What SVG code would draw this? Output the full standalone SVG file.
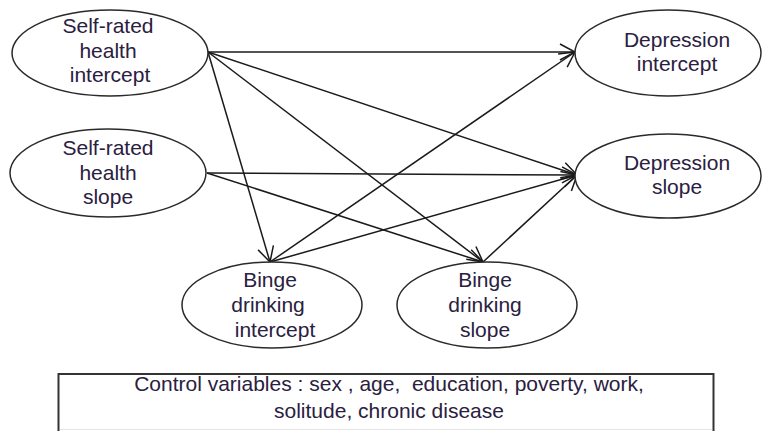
<svg xmlns="http://www.w3.org/2000/svg" width="769" height="431" viewBox="0 0 769 431">
<style>
.node ellipse{fill:#fff;stroke:#2a2a2a;stroke-width:1.5}
.node text,.note text{font-family:"Liberation Sans",Arial,sans-serif;font-size:21px;fill:#2a2040;text-anchor:middle}
.conn line{stroke:#1a1a1a;stroke-width:1.5;marker-end:url(#arr)}
</style>
<defs>
<marker id="arr" markerUnits="userSpaceOnUse" markerWidth="18" markerHeight="18" viewBox="0 0 18 18" refX="16" refY="9" orient="auto">
<path d="M1,1 L16,9 L1,17" fill="none" stroke="#1a1a1a" stroke-width="1.5"/>
</marker>
</defs>
<rect width="769" height="431" fill="#fff"/>
<g class="conn">
<line x1="208" y1="52" x2="575" y2="52"/>
<line x1="208" y1="52" x2="577" y2="175"/>
<line x1="208" y1="52" x2="270" y2="262"/>
<line x1="208" y1="52" x2="483" y2="262"/>
<line x1="207" y1="173" x2="577" y2="175"/>
<line x1="207" y1="173" x2="483" y2="262"/>
<line x1="270" y1="262" x2="575" y2="52"/>
<line x1="270" y1="262" x2="577" y2="175"/>
<line x1="483" y1="262" x2="577" y2="175"/>
</g>
<g id="srh-intercept" class="node">
<ellipse cx="110" cy="53" rx="98" ry="43"/>
<text x="108" y="33">Self-rated</text>
<text x="108" y="58">health</text>
<text x="110" y="82">intercept</text>
</g>
<g id="srh-slope" class="node">
<ellipse cx="108" cy="173" rx="98" ry="44"/>
<text x="108" y="155">Self-rated</text>
<text x="108" y="180">health</text>
<text x="108" y="204">slope</text>
</g>
<g id="dep-intercept" class="node">
<ellipse cx="668" cy="53" rx="93" ry="43"/>
<text x="677" y="47">Depression</text>
<text x="677" y="71">intercept</text>
</g>
<g id="dep-slope" class="node">
<ellipse cx="668" cy="176" rx="93" ry="42"/>
<text x="677" y="170">Depression</text>
<text x="677" y="194">slope</text>
</g>
<g id="binge-intercept" class="node">
<ellipse cx="272" cy="305" rx="90" ry="43"/>
<text x="270" y="287">Binge</text>
<text x="268" y="312">drinking</text>
<text x="275" y="337">intercept</text>
</g>
<g id="binge-slope" class="node">
<ellipse cx="487" cy="305" rx="90" ry="43"/>
<text x="485" y="287">Binge</text>
<text x="485" y="312">drinking</text>
<text x="485" y="337">slope</text>
</g>
<g id="controls" class="note">
<rect x="58.5" y="374" width="655" height="80" fill="#fff" stroke="#333" stroke-width="2"/>
<line x1="60" y1="429.5" x2="712" y2="429.5" stroke="#e6e6e6" stroke-width="1"/>
<text x="389" y="391" xml:space="preserve">Control variables : sex , age,  education, poverty, work,</text>
<text x="389" y="418">solitude, chronic disease</text>
</g>
</svg>
